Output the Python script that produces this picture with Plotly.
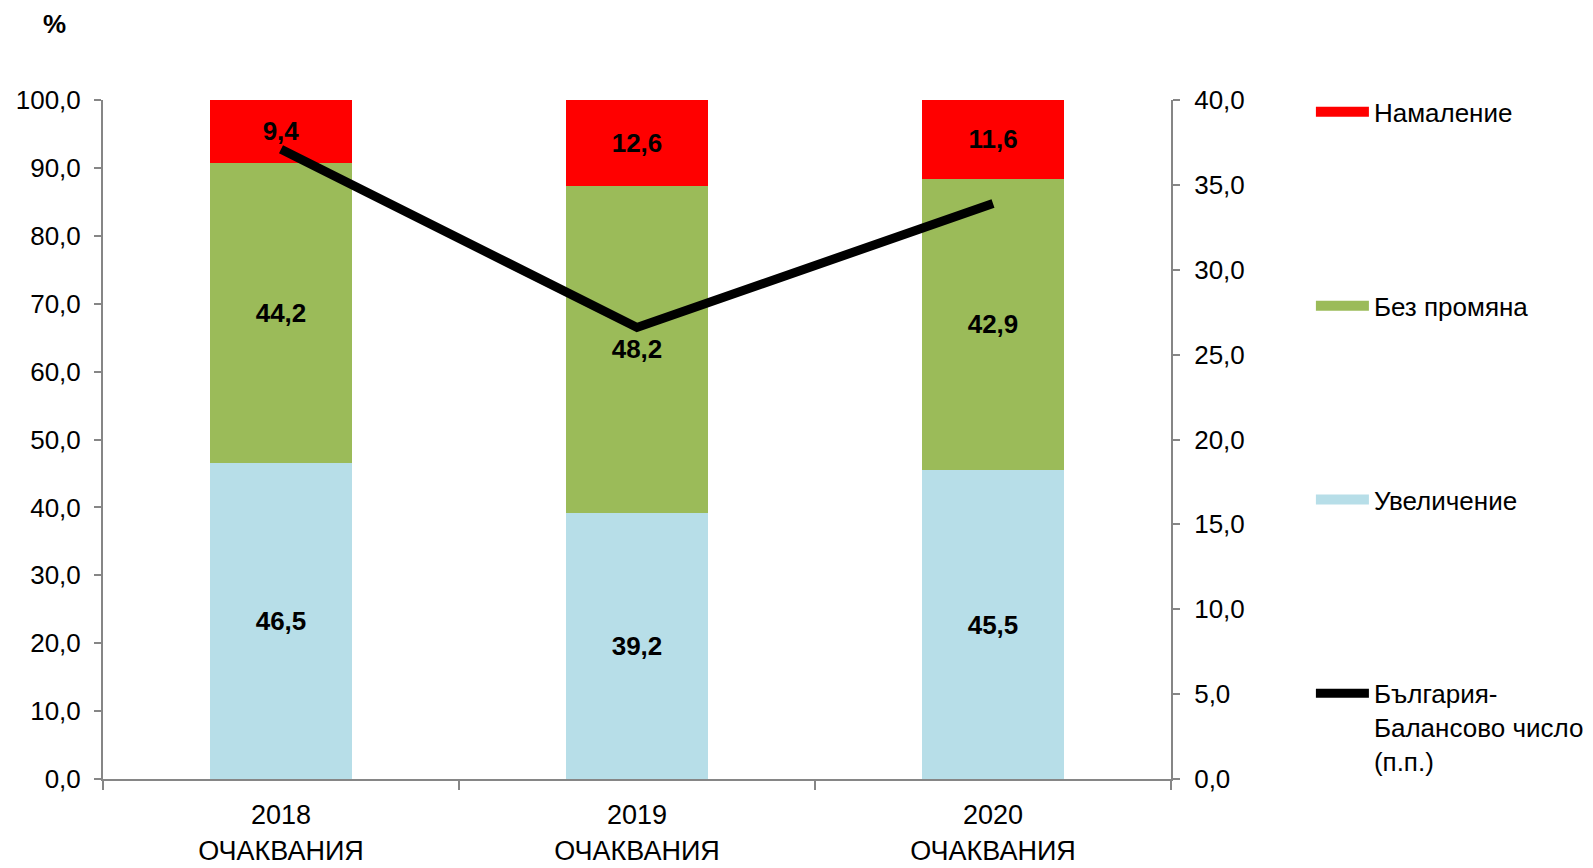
import plotly.graph_objects as go

categories = ["2018<br>ОЧАКВАНИЯ", "2019<br>ОЧАКВАНИЯ", "2020<br>ОЧАКВАНИЯ"]
increase = [46.5, 39.2, 45.5]
no_change = [44.2, 48.2, 42.9]
decrease = [9.4, 12.6, 11.6]
balance = [37.1, 26.6, 33.9]

names = ["Увеличение", "Без промяна", "Намаление", "България-<br>Балансово число<br>(п.п.)"]
colors = ["#B7DEE8", "#9BBB59", "#FF0000", "#000000"]

FONT = "Arial, Liberation Sans, sans-serif"

def fmt(v):
    return f"{v:.1f}".replace(".", ",")

fig = go.Figure()
for vals, name, col, rank in [(increase, names[0], colors[0], 3),
                               (no_change, names[1], colors[1], 2),
                               (decrease, names[2], colors[2], 1)]:
    fig.add_trace(go.Bar(
        x=categories, y=vals, name=name, marker=dict(color=col, line=dict(width=0)),
        text=[fmt(v) for v in vals], textposition="inside", insidetextanchor="middle",
        textfont=dict(family=FONT, size=26, color="black", weight="bold"),
        textangle=0, showlegend=False, hoverinfo="skip",
    ))
    # legend swatch entry
    fig.add_trace(go.Scatter(
        x=[None], y=[None], mode="lines", name=name,
        line=dict(color=col, width=13), legendrank=rank, legendgroup=name,
    ))

fig.add_trace(go.Scatter(
    x=categories, y=balance, yaxis="y2", mode="lines", name=names[3],
    line=dict(color=colors[3], width=9), legendrank=4, legendgroup="line",
))

axis_col = "#868686"
fig.update_layout(
    width=1585, height=860,
    paper_bgcolor="white", plot_bgcolor="white",
    margin=dict(l=95, r=422, t=92, b=89, autoexpand=False),
    barmode="stack", bargap=0.6,
    separators=",.",
    font=dict(family=FONT, size=26, color="black"),
    xaxis=dict(
        showline=True, linecolor=axis_col, linewidth=2,
        ticks="outside", tickson="boundaries", ticklen=9, tickcolor=axis_col, tickwidth=2,
        tickfont=dict(size=27), showgrid=False, zeroline=False,
        automargin=False, ticklabelstandoff=11,
    ),
    yaxis=dict(
        range=[0, 100], dtick=10, tickformat=".1f",
        showline=True, linecolor=axis_col, linewidth=2,
        ticks="outside", ticklen=7, tickcolor=axis_col, tickwidth=2,
        showgrid=False, zeroline=False, tickfont=dict(size=26),
        automargin=False, ticklabelstandoff=8,
    ),
    yaxis2=dict(
        range=[0, 40], dtick=5, tickformat=".1f", overlaying="y", side="right",
        showline=True, linecolor=axis_col, linewidth=2,
        ticks="outside", ticklen=7, tickcolor=axis_col, tickwidth=2,
        showgrid=False, zeroline=False, tickfont=dict(size=26),
        automargin=False, ticklabelstandoff=9,
    ),
    legend=dict(
        x=1.131, xanchor="left", y=1.017, yanchor="top",
        traceorder="grouped", tracegroupgap=157, itemwidth=53,
        valign="top", font=dict(size=26), bgcolor="rgba(0,0,0,0)",
        maxheight=850,
    ),
    annotations=[dict(
        text="<b>%</b>", xref="paper", yref="paper", x=-0.058, y=1.087,
        xanchor="left", yanchor="bottom", showarrow=False, font=dict(size=26),
    )],
)

fig.write_html("out.html")
